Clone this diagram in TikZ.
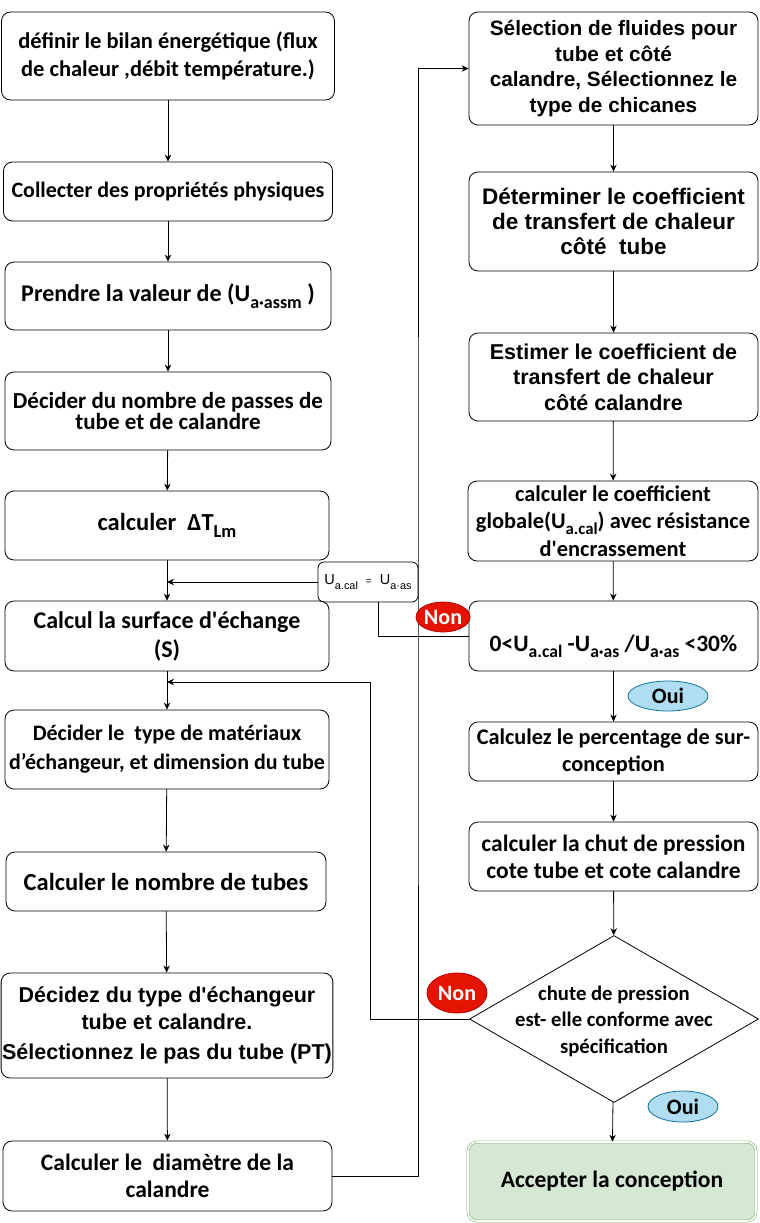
\documentclass[tikz,border=0pt]{standalone}
\usepackage{fontspec}
\setmainfont{Carlito}[Ligatures=TeXOff]
\newfontfamily\arialfont{Liberation Sans}
\usetikzlibrary{arrows.meta, shapes.geometric}
\newcommand{\lowsub}[1]{\raisebox{-0.55ex}{\scalebox{0.75}{#1}}}
\definecolor{ouifill}{HTML}{B1DDF0}
\definecolor{ouidraw}{HTML}{10739E}
\definecolor{nonfill}{HTML}{E51400}
\definecolor{nondraw}{HTML}{B20000}
\definecolor{okfill}{HTML}{D5E8D4}
\definecolor{okdraw}{HTML}{82B366}
\tikzset{
	stepbox/.style={draw, rounded corners=9pt, line width=0.8pt, align=center, inner sep=1pt,
		font=\bfseries\fontsize{22.5}{28}\selectfont},
	arialbox/.style={stepbox, font=\arialfont\bfseries\fontsize{21.5}{25.5}\selectfont},
	flow/.style={-{Stealth[length=7pt,width=6.5pt]}, line width=0.8pt},
	link/.style={line width=0.8pt},
	answer/.style={ellipse, draw, line width=0.8pt, inner sep=0pt, font=\bfseries\fontsize{22}{24}\selectfont},
	oui/.style={answer, fill=ouifill, draw=ouidraw},
	non/.style={answer, fill=nonfill, draw=nondraw, text=white},
}
\begin{document}
\begin{tikzpicture}[x=1pt, y=-1pt, line cap=round, line join=round]
	\useasboundingbox (0,0) rectangle (760,1223);
	
	% ===== left column =====
	\node[stepbox, minimum width=333pt, minimum height=88pt] (bilan) at (168,56)
	{définir le bilan énergétique (flux\\de chaleur ,débit température.)};
	\node[stepbox, minimum width=329pt, minimum height=59pt, font=\bfseries\fontsize{22}{26}\selectfont] (proprietes) at (168,191.5)
	{Collecter des propriétés physiques};
	\node[stepbox, minimum width=326pt, minimum height=68pt, font=\bfseries\fontsize{24}{28}\selectfont] (uassm) at (168,296)
	{Prendre la valeur de (U\lowsub{a·assm} )};
	\node[stepbox, minimum width=326pt, minimum height=78pt, font=\bfseries\fontsize{23}{18}\selectfont] (passes) at (168,411)
	{Décider du nombre de passes de\\tube et de calandre};
	\node[stepbox, minimum width=324pt, minimum height=69pt, font=\bfseries\fontsize{24.5}{28}\selectfont] (deltat) at (167,525.5)
	{calculer \ ΔT\lowsub{Lm}};
	\node[stepbox, minimum width=324pt, minimum height=70pt, font=\bfseries\fontsize{24}{29}\selectfont] (surface) at (167,636)
	{Calcul la surface d'échange\\(S)};
	\node[stepbox, minimum width=324pt, minimum height=79pt, font=\bfseries\fontsize{22}{29}\selectfont] (materiaux) at (167,749.5)
	{Décider le \ type de matériaux\\d’échangeur, et dimension du tube};
	\node[stepbox, minimum width=320pt, minimum height=59pt, font=\bfseries\fontsize{24.5}{28}\selectfont] (ntubes) at (166,881.5)
	{Calculer le nombre de tubes};
	\node[arialbox, minimum width=324pt, minimum height=105pt, font=\arialfont\bfseries\fontsize{21.5}{27}\selectfont] (typeech) at (167,1025.5)
	{Décidez du type d'échangeur\\tube et calandre.\\[3pt]Sélectionnez le pas du tube (PT)};
	\node[stepbox, minimum width=329pt, minimum height=70pt, font=\bfseries\fontsize{23.5}{27}\selectfont] (diametre) at (167.5,1176)
	{Calculer le \ diamètre de la\\calandre};
	
	\draw[flow] (bilan) -- (proprietes);
	\draw[flow] (proprietes) -- (uassm);
	\draw[flow] (uassm) -- (passes);
	\draw[flow] (passes) -- (deltat);
	\draw[flow] (deltat) -- (surface);
	\draw[flow] (surface) -- (materiaux);
	\draw[flow] (materiaux) -- (ntubes);
	\draw[flow] (ntubes) -- (typeech);
	\draw[flow] (typeech) -- (diametre);
	
	% ===== right column =====
	\node[arialbox, minimum width=289pt, minimum height=113pt, font=\arialfont\bfseries\fontsize{20.8}{25.5}\selectfont] (fluides) at (613.5,68.5)
	{Sélection de fluides pour\\tube et côté\\calandre, Sélectionnez le\\type de chicanes};
	\node[arialbox, minimum width=289pt, minimum height=99pt, font=\arialfont\bfseries\fontsize{22.5}{25}\selectfont] (coeftube) at (613.5,221.5)
	{Déterminer le coefficient\\de transfert de chaleur\\côté \ tube};
	\node[arialbox, minimum width=289pt, minimum height=88pt] (coefcal) at (613.5,377)
	{Estimer le coefficient de\\transfert de chaleur\\côté calandre};
	\node[stepbox, minimum width=290pt, minimum height=80pt, font=\bfseries\fontsize{22.4}{27.5}\selectfont] (coefglob) at (613,521)
	{calculer le coefficient\\globale(U\lowsub{a.cal}) avec résistance\\d'encrassement};
	\node[stepbox, minimum width=289pt, minimum height=70pt,
	label={[yshift=-10pt, font=\bfseries\fontsize{23.5}{28}\selectfont]center:0<U\lowsub{a.cal} -U\lowsub{a·as} /U\lowsub{a·as} <30\%}]
	(ecart) at (613.5,636) {};
	\node[stepbox, minimum width=289pt, minimum height=59pt, font=\bfseries\fontsize{22.3}{27}\selectfont] (surconc) at (613.5,751.5)
	{Calculez le percentage de sur-\\conception};
	\node[stepbox, minimum width=289pt, minimum height=69pt, font=\bfseries\fontsize{23.5}{27}\selectfont] (pression) at (613.5,856.5)
	{calculer la chut de pression\\cote tube et cote calandre};
	\node[diamond, draw, line width=0.8pt, inner sep=0pt, minimum width=289pt, minimum height=167pt,
	label={[yshift=-2pt, align=center, font=\bfseries\fontsize{20.7}{26.5}\selectfont]center:chute de pression\\est- elle conforme avec\\spécification}]
	(conforme) at (614,1019) {};
	\node[stepbox, fill=okfill, draw=okdraw, double, double distance=1.6pt, line width=0.6pt,
	minimum width=288pt, minimum height=79pt, font=\bfseries\fontsize{23.5}{28}\selectfont] (accepter) at (612,1181.5)
	{Accepter la conception};
	
	\draw[flow] (fluides) -- (coeftube);
	\draw[flow] (coeftube) -- (coefcal);
	\draw[flow] (coefcal) -- (coefglob);
	\draw[flow] (coefglob) -- (ecart);
	\draw[flow] (ecart) -- (surconc);
	\draw[flow] (surconc) -- (pression);
	\draw[flow] (pression) -- (conforme);
	\draw[flow] (conforme) -- (accepter);
	
	% ===== loops =====
	\node[draw, rounded corners=6pt, line width=0.8pt, minimum width=100pt, minimum height=40pt, inner sep=1pt,
	font=\arialfont\fontsize{14.5}{16}\selectfont] (egal) at (368,582)
	{U\lowsub{a.cal} \ {\fontsize{10}{11}\selectfont =} \ U\lowsub{a·as}};
	\draw[link] (ecart.west) -| ([xshift=10pt]egal.south);
	\draw[flow] (egal.west) -- (egal.west -| surface.north);
	
	\coordinate (boucle) at (370,682);
	\draw[flow] (conforme.west) -| (boucle) -- (boucle -| surface.south);
	
	\coordinate (montee) at (418,600);
	\draw[flow] (diametre.east) -| (montee) |- (fluides.west);
	
	% answers
	\node[non, minimum width=50pt, minimum height=30pt] (non1) at (443,617) {Non};
	\node[oui, minimum width=80pt, minimum height=30pt] (oui1) at (668,696) {Oui};
	\node[non, minimum width=60pt, minimum height=40pt] (non2) at (457,993) {Non};
	\node[oui, minimum width=70pt, minimum height=31pt] (oui2) at (683,1106.5) {Oui};
	
\end{tikzpicture}
\end{document}
